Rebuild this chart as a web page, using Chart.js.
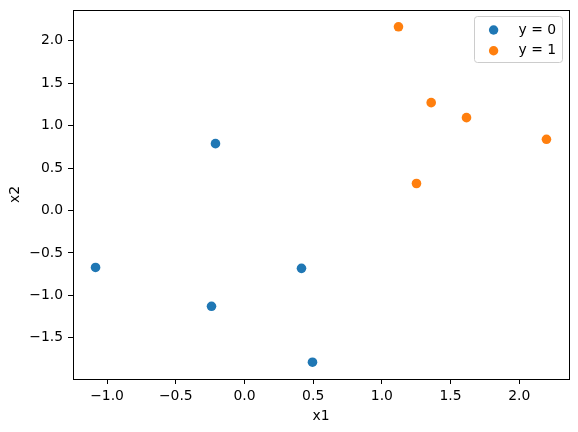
<!DOCTYPE html>
<html>
<head>
<meta charset="utf-8">
<script src="https://cdn.jsdelivr.net/npm/chart.js@4"></script>
<style>
    body { margin: 0; background: #fff; }
    #contenedor { width: 578px; height: 432px; }
</style>
</head>
<body>
<div id="contenedor"><canvas id="dispersion" width="578" height="432"></canvas></div>
<script>
// Datos de la clase y = 0
const x1Clase0 = [-1.084, -0.211, -0.240, 0.415, 0.495];
const x2Clase0 = [-0.671, 0.788, -1.129, -0.682, -1.788];

// Datos de la clase y = 1
const x1Clase1 = [1.121, 1.359, 1.616, 2.198, 1.252];
const x2Clase1 = [2.165, 1.271, 1.094, 0.839, 0.318];

// Etiquetas de la leyenda y de los ejes
const etiquetas = ['y = 0', 'y = 1'];
const tituloX = 'x1';
const tituloY = 'x2';

// Marcas de los ejes
const ticksX = [-1.0, -0.5, 0.0, 0.5, 1.0, 1.5, 2.0];
const ticksY = [-1.5, -1.0, -0.5, 0.0, 0.5, 1.0, 1.5, 2.0];

const colores = ['#1f77b4', '#ff7f0e'];
const fuente = { family: 'DejaVu Sans', size: 13.9 };

// Junto x1 y x2 en puntos
function puntos(xs, ys) {
    return xs.map((x, i) => ({ x: x, y: ys[i] }));
}

// Limites con un margen del 5% como matplotlib
function limites(valores) {
    const min = Math.min(...valores), max = Math.max(...valores);
    const margen = (max - min) * 0.05;
    return { min: min - margen, max: max + margen };
}
const limX = limites(x1Clase0.concat(x1Clase1));
const limY = limites(x2Clase0.concat(x2Clase1));

// Formato de las etiquetas con el signo menos tipografico
function formato(valor) {
    return Number(valor).toFixed(1).replace('-', '\u2212');
}

// Quito el relleno que Chart.js reserva para las etiquetas de los extremos
function sinRelleno(eje) {
    eje.paddingTop = 0;
    eje.paddingBottom = 0;
    eje.paddingLeft = 0;
    eje.paddingRight = 0;
}

// Marco completo alrededor del area de la grafica
const marco = {
    id: 'marco',
    afterDraw(chart) {
        const { ctx, chartArea: a } = chart;
        ctx.save();
        ctx.strokeStyle = '#000';
        ctx.lineWidth = 1;
        ctx.strokeRect(Math.round(a.left) + 0.5, Math.round(a.top) + 0.5,
            Math.round(a.right - a.left), Math.round(a.bottom - a.top));
        ctx.restore();
    }
};

// Leyenda dentro del area, arriba a la derecha
const leyenda = {
    id: 'leyenda',
    afterDraw(chart) {
        const { ctx, chartArea: a } = chart;
        const ancho = 88, alto = 46;
        const x0 = a.right - 7 - ancho, y0 = a.top + 6;
        ctx.save();
        ctx.beginPath();
        ctx.roundRect(x0 + 0.5, y0 + 0.5, ancho, alto, 3);
        ctx.fillStyle = 'rgba(255,255,255,0.8)';
        ctx.fill();
        ctx.strokeStyle = '#cccccc';
        ctx.lineWidth = 1;
        ctx.stroke();
        ctx.font = fuente.size + 'px ' + fuente.family;
        ctx.textBaseline = 'middle';
        chart.data.datasets.forEach((ds, i) => {
            const y = y0 + 14 + i * 20.7;
            ctx.beginPath();
            ctx.arc(x0 + 19.6, y, 4.7, 0, Math.PI * 2);
            ctx.fillStyle = ds.backgroundColor;
            ctx.fill();
            ctx.fillStyle = '#000';
            ctx.fillText(ds.label, x0 + 44.6, y);
        });
        ctx.restore();
    }
};

const datos = {
    datasets: [
        {
            label: etiquetas[0],
            data: puntos(x1Clase0, x2Clase0),
            backgroundColor: colores[0],
            borderColor: colores[0],
            borderWidth: 0,
            pointRadius: 4.8,
            pointHoverRadius: 4.8
        },
        {
            label: etiquetas[1],
            data: puntos(x1Clase1, x2Clase1),
            backgroundColor: colores[1],
            borderColor: colores[1],
            borderWidth: 0,
            pointRadius: 4.8,
            pointHoverRadius: 4.8
        }
    ]
};

const opciones = {
    responsive: false,
    animation: false,
    events: [],
    layout: { padding: { top: 10, right: 9, left: 0, bottom: 0 } },
    plugins: {
        legend: { display: false },
        tooltip: { enabled: false }
    },
    scales: {
        x: {
            type: 'linear',
            min: limX.min,
            max: limX.max,
            afterBuildTicks: (eje) => { eje.ticks = ticksX.map(v => ({ value: v })); },
            afterFit: (eje) => { eje.height = 53; sinRelleno(eje); },
            grid: { drawOnChartArea: false, drawTicks: true, tickLength: 5, color: '#000', lineWidth: 1 },
            border: { display: true, color: '#000', width: 1 },
            ticks: { color: '#000', font: fuente, padding: 4, maxRotation: 0, callback: formato },
            title: { display: true, text: tituloX, color: '#000', font: fuente, padding: { top: 0, bottom: 7 } }
        },
        y: {
            type: 'linear',
            min: limY.min,
            max: limY.max,
            afterBuildTicks: (eje) => { eje.ticks = ticksY.map(v => ({ value: v })); },
            afterFit: (eje) => { eje.width = 73; sinRelleno(eje); },
            grid: { drawOnChartArea: false, drawTicks: true, tickLength: 5, color: '#000', lineWidth: 1 },
            border: { display: true, color: '#000', width: 1 },
            ticks: { color: '#000', font: fuente, padding: 5, callback: formato },
            title: { display: true, text: tituloY, color: '#000', font: fuente, padding: { top: 7.5, bottom: 0 } }
        }
    }
};

// Represento la grafica de dispersion
const grafica = new Chart(document.getElementById('dispersion'), {
    type: 'scatter',
    data: datos,
    options: opciones,
    plugins: [marco, leyenda]
});
</script>
</body>
</html>
